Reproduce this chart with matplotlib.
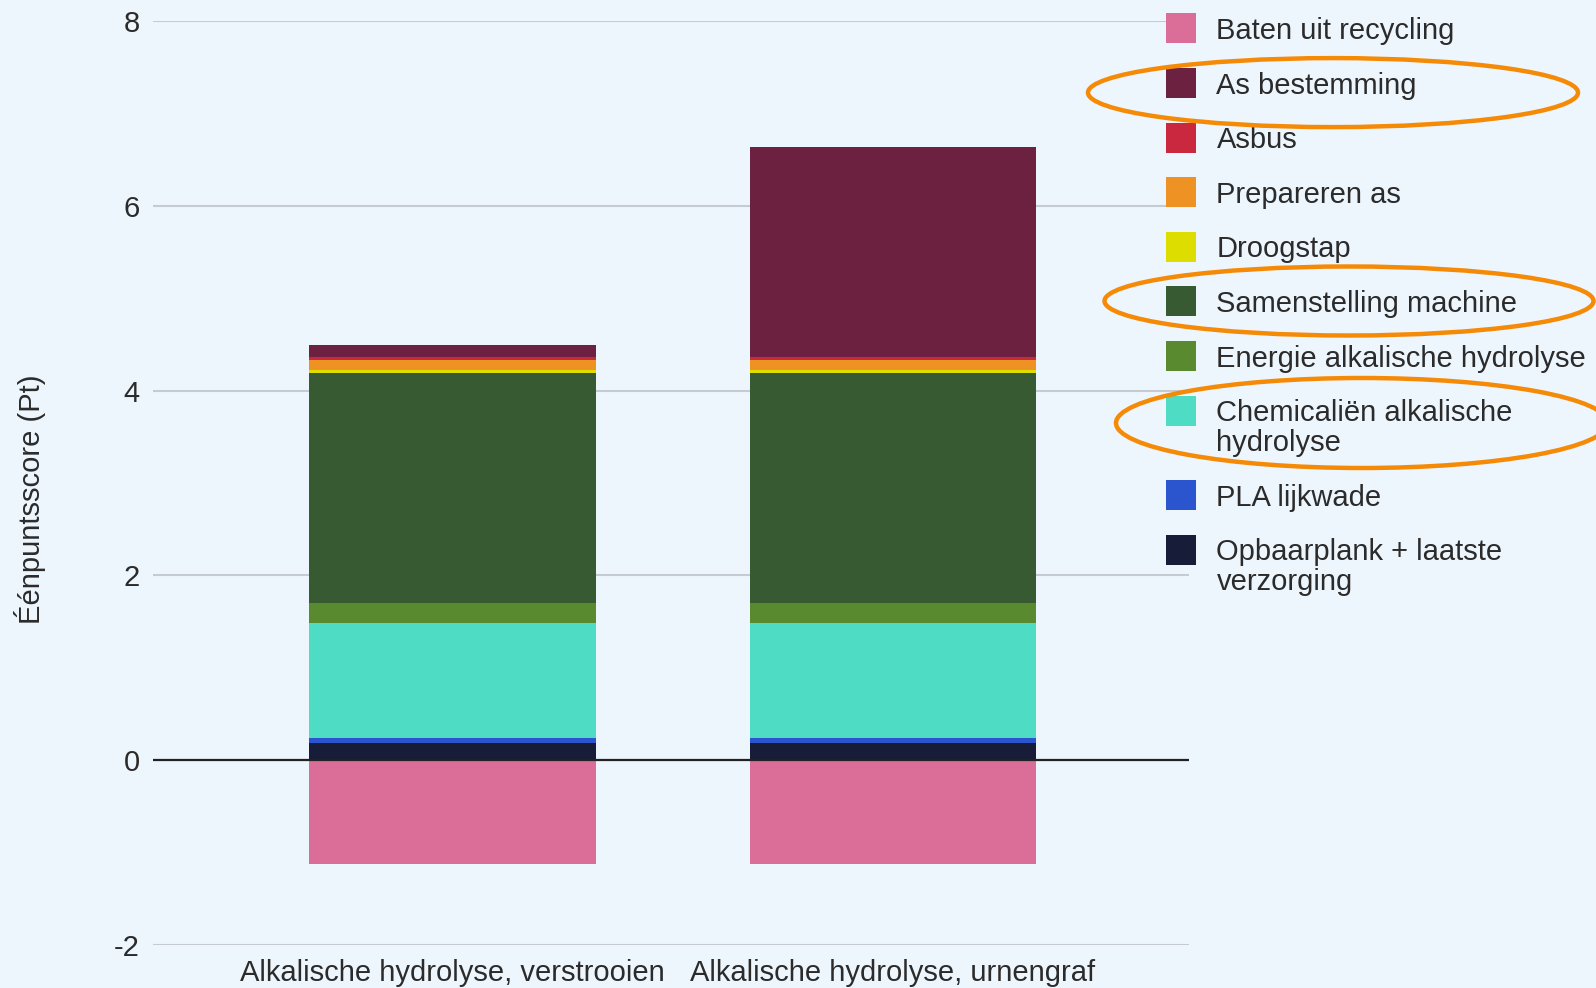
import matplotlib
matplotlib.use('Agg')
import matplotlib.pyplot as plt
from matplotlib.patches import Rectangle, Ellipse

# ---------- data ----------
scenarios = ['Alkalische hydrolyse, verstrooien', 'Alkalische hydrolyse, urnengraf']

# stacked from the bottom up (positive part), Baten is the negative part
categories = [
    'Opbaarplank + laatste\nverzorging',
    'PLA lijkwade',
    'Chemicaliën alkalische\nhydrolyse',
    'Energie alkalische hydrolyse',
    'Samenstelling machine',
    'Droogstap',
    'Prepareren as',
    'Asbus',
    'As bestemming',
]
opbaarplank   = [0.18, 0.18]
pla           = [0.06, 0.06]
chemicalien   = [1.24, 1.24]
energie       = [0.22, 0.22]
samenstelling = [2.49, 2.49]
droogstap     = [0.03, 0.03]
prepareren    = [0.11, 0.11]
asbus         = [0.03, 0.03]
as_bestemming = [0.14, 2.28]
baten         = [-1.13, -1.13]

series = [opbaarplank, pla, chemicalien, energie, samenstelling,
          droogstap, prepareren, asbus, as_bestemming]
colors = ['#171C38', '#2B55CF', '#4FDCC4', '#5A8A30', '#385A33',
          '#DDDD00', '#EE9223', '#C9283F', '#6B213F']
baten_label = 'Baten uit recycling'
baten_color = '#DB6E98'

BG = '#EEF6FD'
TXT = '#2B2B2B'
FS = 21
plt.rcParams['font.family'] = ['Liberation Sans', 'DejaVu Sans']

W_PX, H_PX = 1596, 988
fig = plt.figure(figsize=(W_PX / 100, H_PX / 100), dpi=100, facecolor=BG)
ax = fig.add_axes([0.0957, 0.0439, 0.6493, 0.9344])
ax.set_facecolor(BG)

x = range(len(scenarios))
W = 0.651
bottom = [0.0, 0.0]
for vals, col, lab in zip(series, colors, categories):
    ax.bar(x, vals, W, bottom=bottom, color=col, label=lab, zorder=2, linewidth=0)
    bottom = [b + v for b, v in zip(bottom, vals)]
ax.bar(x, baten, W, color=baten_color, label=baten_label, zorder=2, linewidth=0)

ax.set_xlim(-0.68, 1.672)
ax.set_ylim(-2, 8)
ax.set_yticks([-2, 0, 2, 4, 6, 8])
ax.set_yticklabels(['-2', '0', '2', '4', '6', '8'])
ax.grid(axis='y', color='#C5CAD3', lw=1.5, zorder=1)
ax.axhline(0, color='#222222', lw=1.6, zorder=3)
for s in ax.spines.values():
    s.set_visible(False)
ax.tick_params(axis='both', length=0, labelsize=FS, colors=TXT)
ax.tick_params(axis='y', pad=9.5)
ax.tick_params(axis='x', pad=10.5)
ax.set_xticks(list(x))
ax.set_xticklabels(scenarios)

fig.text(0.019, 0.495, 'Éénpuntsscore (Pt)', rotation=90, ha='center', va='center',
         fontsize=FS, color=TXT)

# legend drawn by hand: Baten first, then the stack from top to bottom
leg_labels = [baten_label] + categories[::-1]
leg_colors = [baten_color] + colors[::-1]
row_y = 28.5      # centre of the first row, px from the top
ROW = 54.6        # row pitch
LINE = 30.0       # extra height per wrapped line
SQ = 30.0
for lab, col in zip(leg_labels, leg_colors):
    fig.add_artist(Rectangle((1165.5 / W_PX, 1 - (row_y + SQ / 2) / H_PX),
                             SQ / W_PX, SQ / H_PX, transform=fig.transFigure,
                             facecolor=col, edgecolor='none'))
    lines = lab.split('\n')
    for k, line in enumerate(lines):
        base = row_y + k * LINE + 10.5
        fig.text(1216.5 / W_PX, 1 - base / H_PX, line, ha='left', va='baseline',
                 fontsize=FS, color=TXT)
    row_y += ROW + (len(lines) - 1) * LINE

# highlight rings around selected legend entries
for cx, cy, w, h in [(1333, 92.6, 490, 69), (1349, 301, 489, 69), (1362, 423, 492, 90)]:
    e = Ellipse((cx / W_PX, 1 - cy / H_PX), w / W_PX, h / H_PX, transform=fig.transFigure,
                fill=False, edgecolor='#F58A07', lw=3.2, zorder=10)
    fig.add_artist(e)

fig.savefig('out.png', dpi=100, facecolor=BG)
